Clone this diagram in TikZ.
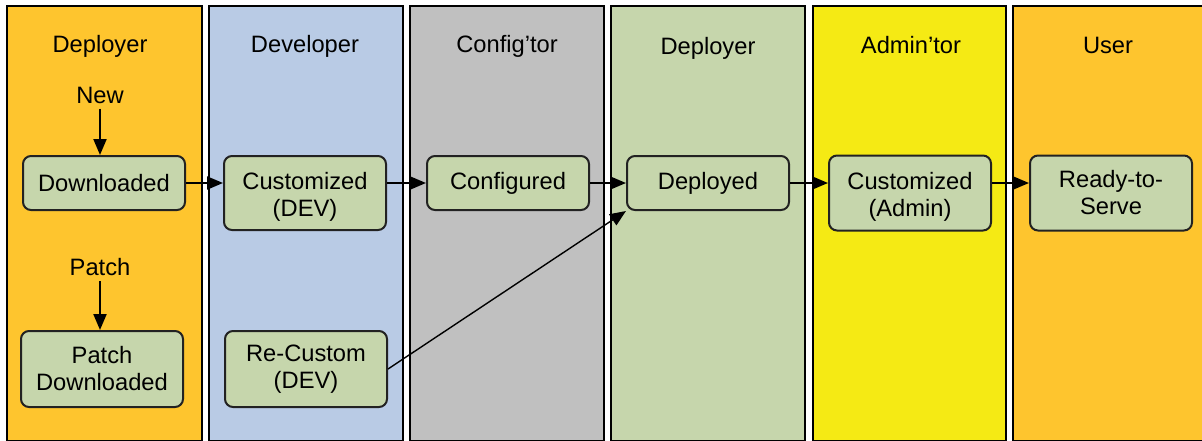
\documentclass[tikz,border=0pt]{standalone}
\usepackage{fontspec}
\setmainfont{Liberation Sans}
\usetikzlibrary{arrows.meta}
\definecolor{laneorange}{HTML}{FEC52E}
\definecolor{laneblue}{HTML}{B9CBE5}
\definecolor{lanegray}{HTML}{C0C0C0}
\definecolor{lanegreen}{HTML}{C6D6AC}
\definecolor{laneyellow}{HTML}{F5EA14}
\definecolor{boxfill}{HTML}{C6D6AC}
\definecolor{boxline}{HTML}{222222}
\newcommand{\topstrut}{\rule{0pt}{12.7pt}}
\begin{document}
\begin{tikzpicture}[x=0.5pt,y=-0.5pt,
  lane/.style={draw=black,line width=1.2pt},
  box/.style={draw=boxline,fill=boxfill,line width=1pt,rounded corners=4pt,
    minimum width=81pt,align=center,inner sep=0pt,
    font=\fontsize{11.85}{13.5}\selectfont},
  hdr/.style={font=\fontsize{11.85}{13.5}\selectfont,inner sep=0pt,anchor=base},
  lbl/.style={font=\fontsize{11.85}{13.5}\selectfont,inner sep=2.5pt},
  arr/.style={-{Triangle[length=8pt,width=6.5pt]},line width=1pt},
  thinarr/.style={-{Triangle[length=8pt,width=6.5pt]},line width=0.7pt}]
\useasboundingbox (0,0) rectangle (1202,440);
\fill[white] (0,0) rectangle (1202,440);
\begin{scope}
  \clip (0,0) rectangle (1202,440);
  \filldraw[lane,fill=laneorange] (7,6) rectangle (202,441);
  \filldraw[lane,fill=laneblue] (209,6) rectangle (403,441);
  \filldraw[lane,fill=lanegray] (410,6) rectangle (604,441);
  \filldraw[lane,fill=lanegreen] (611,6) rectangle (805,441);
  \filldraw[lane,fill=laneyellow] (813,6) rectangle (1006,441);
  \filldraw[lane,fill=laneorange] (1013,6) rectangle (1215,441);
\end{scope}
% headers
\node[hdr] (h1) at (100,52) {Deployer};
\node[hdr] (h2) at (305,52) {Developer};
\node[hdr] (h3) at (507,52) {Config’tor};
\node[hdr] (h4) at (708,54) {Deployer};
\node[hdr] (h5) at (911,53) {Admin’tor};
\node[hdr] (h6) at (1108,53) {User};
% boxes
\node[box,minimum height=27pt] (dl) at (104,183) {Downloaded};
\node[box,minimum height=37pt] (cdev) at (305,193) {\topstrut Customized\\(DEV)};
\node[box,minimum height=27pt] (cfg) at (508,183) {Configured};
\node[box,minimum height=27pt] (dep) at (708,183) {Deployed};
\node[box,minimum height=37.5pt] (cadm) at (910,193) {\topstrut Customized\\(Admin)};
\node[box,minimum height=37.5pt] (rts) at (1111,193) {Ready-to-\\Serve};
\node[box,minimum height=38pt] (pd) at (102,369) {Patch\\Downloaded};
\node[box,minimum height=38pt] (rc) at (306,369) {Re-Custom\\(DEV)};
% labels
\node[lbl] (new) at (100,95) {New};
\node[lbl] (patch) at (100,267) {Patch};
% connectors
\draw[arr] (new.south) -- (new.south |- dl.north);
\draw[arr] (patch.south) -- (patch.south |- pd.north);
\draw[arr] (dl.east) -- (cdev.west |- dl.east);
\draw[arr] (cdev.east |- cfg.west) -- (cfg.west);
\draw[arr] (cfg.east) -- (dep.west);
\draw[arr] (dep.east) -- (cadm.west |- dep.east);
\draw[arr] (cadm.east |- dep.east) -- (rts.west |- dep.east);
\draw[thinarr] (rc.east) -- (dep.south west);
\end{tikzpicture}
\end{document}
